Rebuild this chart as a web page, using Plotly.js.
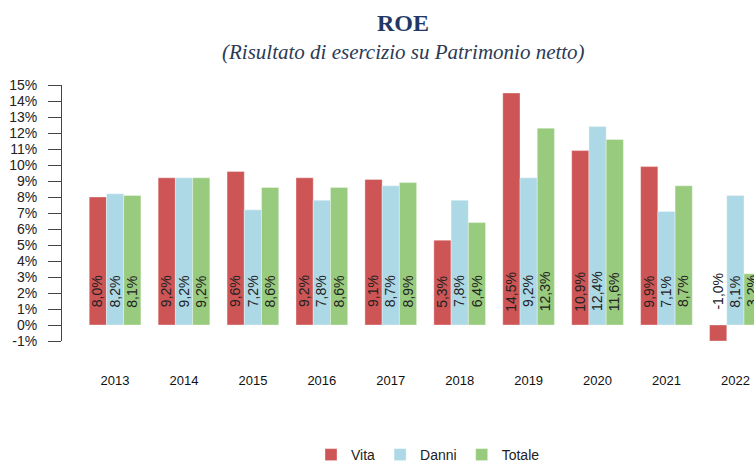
<!DOCTYPE html>
<html>
<head>
<meta charset="utf-8">
<script src="https://cdn.plot.ly/plotly-3.0.1.min.js"></script>
<style>html,body{margin:0;padding:0;background:#fff;overflow:hidden;}</style>
</head>
<body>
<div id="chart" style="width:754px;height:462px;"></div>
<script>
const years = ['2013','2014','2015','2016','2017','2018','2019','2020','2021','2022'];
const vita   = [8.0, 9.2, 9.6, 9.2, 9.1, 5.3, 14.5, 10.9, 9.9, -1.0];
const danni  = [8.2, 9.2, 7.2, 7.8, 8.7, 7.8, 9.2, 12.4, 7.1, 8.1];
const totale = [8.1, 9.2, 8.6, 8.6, 8.9, 6.4, 12.3, 11.6, 8.7, 3.2];
const seriesNames = ['Vita', 'Danni', 'Totale'];
const seriesColors = ['#CD5555', '#ADD8E6', '#98CB7E'];
const yTickVals = [-1,0,1,2,3,4,5,6,7,8,9,10,11,12,13,14,15];
const yTickText = ['-1%','0%','1%','2%','3%','4%','5%','6%','7%','8%','9%','10%','11%','12%','13%','14%','15%'];
const labelLevel = 2.1;

const allSeries = [vita, danni, totale];
const fmt = v => v.toFixed(1).replace('.', ',') + '%';

const bargap = 0.25;
const barW = (1 - bargap) / allSeries.length;

const traces = allSeries.map((vals, s) => ({
  type: 'bar',
  name: seriesNames[s],
  x: years,
  y: vals,
  marker: {color: seriesColors[s], line: {width: 0.8, color: 'rgba(255,255,255,0.45)'}},
  hoverinfo: 'skip'
}));

const annotations = [];
allSeries.forEach((vals, s) => {
  vals.forEach((v, i) => {
    annotations.push({
      x: i + (s - (allSeries.length - 1) / 2) * barW,
      y: labelLevel,
      xref: 'x', yref: 'y',
      text: fmt(v),
      textangle: -90,
      showarrow: false,
      xanchor: 'center', yanchor: 'middle',
      font: {family: 'Liberation Sans, Arial, sans-serif', size: 14, color: '#222'}
    });
  });
});

annotations.push({
  xref: 'paper', yref: 'paper',
  x: (403 - 62) / 692, y: 1.13,
  xanchor: 'center', yanchor: 'middle',
  text: '<i>(Risultato di esercizio su Patrimonio netto)</i>',
  showarrow: false,
  font: {family: 'Liberation Serif, Times New Roman, serif', size: 21, color: '#2B3A55'}
});

const layout = {
  width: 754, height: 462,
  margin: {l: 62, r: 0, t: 85, b: 121, autoexpand: false},
  paper_bgcolor: '#fff', plot_bgcolor: '#fff',
  title: {
    text: '<b>ROE</b>',
    x: 403 / 754, xref: 'container', xanchor: 'center',
    y: 1 - 14 / 462, yref: 'container', yanchor: 'top',
    font: {family: 'Liberation Serif, Times New Roman, serif', size: 24, color: '#1F3864'}
  },
  barmode: 'group',
  bargap: bargap,
  bargroupgap: 0,
  showlegend: true,
  legend: {
    orientation: 'h',
    x: (351 - 40 - 62) / 692, xanchor: 'left',
    y: (341 - 455) / 256, yanchor: 'middle',
    font: {family: 'Liberation Sans, Arial, sans-serif', size: 14, color: '#222'},
    itemwidth: 30,
    bgcolor: 'rgba(0,0,0,0)'
  },
  xaxis: {
    type: 'category',
    range: [-0.77, 9.27],
    showline: false, showgrid: false, zeroline: false,
    ticks: '',
    ticklabelstandoff: 30,
    tickfont: {family: 'Liberation Sans, Arial, sans-serif', size: 13, color: '#111'},
    fixedrange: true
  },
  yaxis: {
    range: [-1, 15],
    tickvals: yTickVals,
    ticktext: yTickText,
    showline: true, linecolor: '#444', linewidth: 1,
    ticks: 'outside', ticklen: 13, tickcolor: '#444', tickwidth: 1,
    ticklabelstandoff: 8,
    showgrid: false, zeroline: false,
    tickfont: {family: 'Liberation Sans, Arial, sans-serif', size: 14, color: '#222'},
    fixedrange: true
  },
  annotations: annotations
};

Plotly.newPlot('chart', traces, layout, {displayModeBar: false, staticPlot: true});
</script>
</body>
</html>
